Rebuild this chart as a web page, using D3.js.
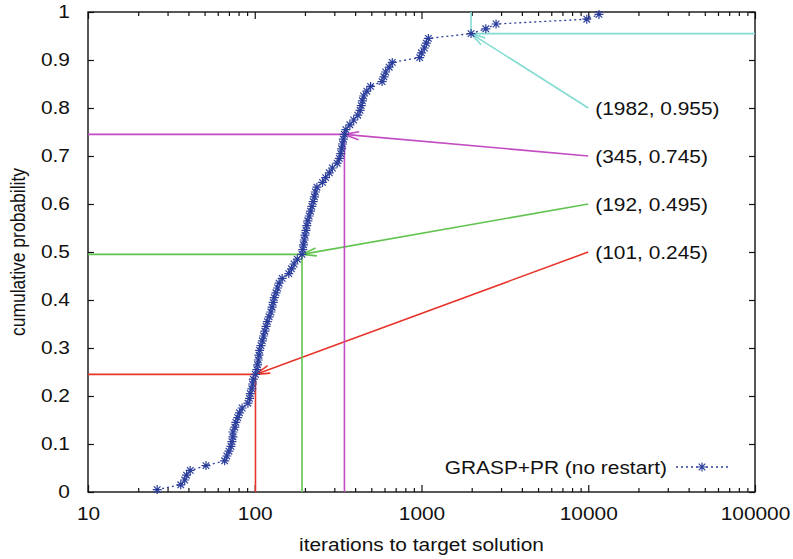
<!DOCTYPE html>
<html>
<head>
<meta charset="utf-8">
<script src="https://cdn.jsdelivr.net/npm/d3@7"></script>
<style>
  html, body { margin: 0; padding: 0; background: #fff; }
  svg { display: block; }
  text { font-family: "Liberation Sans", Arial, Helvetica, sans-serif; fill: #111; }
</style>
</head>
<body>
<div id="chart"></div>
<script>
// iterations needed to hit the target, sorted (100 runs)
const ITERATIONS = [
  26, 36, 38, 39, 41, 51, 66, 68, 70, 72,
  73, 74, 74, 76, 77, 79, 81, 84, 91, 93,
  94, 96, 97, 98, 101, 103, 104, 105, 106, 107,
  109, 111, 113, 115, 117, 119, 122, 125, 127, 129,
  131, 134, 137, 140, 146, 160, 166, 172, 180, 192,
  194, 196, 198, 200, 203, 205, 208, 212, 216, 220,
  224, 228, 231, 236, 255, 266, 280, 292, 312, 322,
  328, 332, 336, 340, 345, 352, 372, 392, 415, 428,
  435, 442, 450, 470, 495, 580, 595, 610, 640, 668,
  975, 1000, 1040, 1070, 1100, 1982, 2430, 2800, 9800, 11600
];
const PROBABILITY = [
  0.005, 0.015, 0.025, 0.035, 0.045, 0.055, 0.065, 0.075, 0.085, 0.095,
  0.105, 0.115, 0.125, 0.135, 0.145, 0.155, 0.165, 0.175, 0.185, 0.195,
  0.205, 0.215, 0.225, 0.235, 0.245, 0.255, 0.265, 0.275, 0.285, 0.295,
  0.305, 0.315, 0.325, 0.335, 0.345, 0.355, 0.365, 0.375, 0.385, 0.395,
  0.405, 0.415, 0.425, 0.435, 0.445, 0.455, 0.465, 0.475, 0.485, 0.495,
  0.505, 0.515, 0.525, 0.535, 0.545, 0.555, 0.565, 0.575, 0.585, 0.595,
  0.605, 0.615, 0.625, 0.635, 0.645, 0.655, 0.665, 0.675, 0.685, 0.695,
  0.705, 0.715, 0.725, 0.735, 0.745, 0.755, 0.765, 0.775, 0.785, 0.795,
  0.805, 0.815, 0.825, 0.835, 0.845, 0.855, 0.865, 0.875, 0.885, 0.895,
  0.905, 0.915, 0.925, 0.935, 0.945, 0.955, 0.965, 0.975, 0.985, 0.995
];

// highlighted quantiles and where their labels sit
const MARK_X = [101, 192, 345, 1982];
const MARK_P = [0.245, 0.495, 0.745, 0.955];
const LABEL_X = [10000, 10000, 10000, 10000];
const LABEL_P = [0.5, 0.6, 0.7, 0.8];
const MARK_COLORS = ["#e8352a", "#62c450", "#c24bc2", "#82dcd2"];

const X_TICKS = [10, 100, 1000, 10000, 100000];
const Y_TICKS = [0, 0.1, 0.2, 0.3, 0.4, 0.5, 0.6, 0.7, 0.8, 0.9, 1];
const SERIES_NAME = "GRASP+PR (no restart)";

const BLUE = "#2b3e9c";
const FS = 18.5, SX = 1.13;   // source picture is a bit wider than tall
const W = 793, H = 559;
const m = { top: 12, right: 38, bottom: 67, left: 88 };

const svg = d3.select("#chart").append("svg")
  .attr("width", W).attr("height", H)
  .attr("viewBox", [0, 0, W, H]);

const x = d3.scaleLog().domain([10, 100000]).range([m.left, W - m.right]);
const y = d3.scaleLinear().domain([0, 1]).range([H - m.bottom, m.top]);

const minor = [];
X_TICKS.slice(0, -1).forEach(d => { for (let k = 2; k < 10; k++) minor.push(d * k); });

function styleAxis(g) {
  g.select(".domain").remove();
  g.selectAll(".tick line").attr("stroke", "#111").attr("stroke-width", 1.2);
  g.selectAll(".tick text").attr("font-size", FS).attr("fill", "#111")
    .attr("font-family", "Liberation Sans, Arial, sans-serif")
    .attr("transform", `scale(${SX},1)`);
}

// stretched text helper
function label(px, py, str, anchor) {
  svg.append("g").attr("transform", `translate(${px},${py}) scale(${SX},1)`)
    .append("text")
    .attr("text-anchor", anchor || "start")
    .attr("font-size", FS)
    .text(str);
}

// bottom + top axes (ticks inward)
svg.append("g").attr("transform", `translate(0,${y(0)})`)
  .call(d3.axisBottom(x).tickValues(X_TICKS).tickFormat(d3.format("d")).tickSize(-7).tickPadding(15))
  .call(styleAxis);
svg.append("g").attr("transform", `translate(0,${y(0)})`)
  .call(d3.axisBottom(x).tickValues(minor).tickFormat("").tickSize(-4))
  .call(styleAxis);
svg.append("g").attr("transform", `translate(0,${y(1)})`)
  .call(d3.axisTop(x).tickValues(X_TICKS).tickFormat("").tickSize(-7))
  .call(styleAxis);
svg.append("g").attr("transform", `translate(0,${y(1)})`)
  .call(d3.axisTop(x).tickValues(minor).tickFormat("").tickSize(-4))
  .call(styleAxis);

// left + right axes
svg.append("g").attr("transform", `translate(${x(10)},0)`)
  .call(d3.axisLeft(y).tickValues(Y_TICKS).tickFormat(d => d3.format("")(+d.toFixed(1))).tickSize(-6).tickPadding(16))
  .call(styleAxis);
svg.append("g").attr("transform", `translate(${x(100000)},0)`)
  .call(d3.axisRight(y).tickValues(Y_TICKS).tickFormat("").tickSize(-6))
  .call(styleAxis);

// frame
svg.append("rect")
  .attr("x", x(10)).attr("y", y(1))
  .attr("width", x(100000) - x(10)).attr("height", y(0) - y(1))
  .attr("fill", "none").attr("stroke", "#111").attr("stroke-width", 1.4);

// axis titles
label((x(10) + x(100000)) / 2, 551, "iterations to target solution", "middle");
svg.append("text")
  .attr("transform", `translate(25,${y(0.5)}) rotate(-90) scale(1,${SX})`)
  .attr("text-anchor", "middle").attr("font-size", 17.5)
  .text("cumulative probability");

// quantile guides + arrows
function arrow(g, x0, y0, x1, y1, color) {
  g.append("line").attr("x1", x0).attr("y1", y0).attr("x2", x1).attr("y2", y1)
    .attr("stroke", color).attr("stroke-width", 1.6);
  const a = Math.atan2(y0 - y1, x0 - x1), len = 15, spread = 0.27;
  [a - spread, a + spread].forEach(t => {
    g.append("line").attr("x1", x1).attr("y1", y1)
      .attr("x2", x1 + len * Math.cos(t)).attr("y2", y1 + len * Math.sin(t))
      .attr("stroke", color).attr("stroke-width", 1.6);
  });
}

const ann = svg.append("g");
MARK_X.forEach((mx, i) => {
  const c = MARK_COLORS[i];
  const px = x(mx), py = y(MARK_P[i]);
  const last = i === MARK_X.length - 1;
  // horizontal guide
  ann.append("line")
    .attr("x1", last ? x(100000) : x(10)).attr("x2", px)
    .attr("y1", py).attr("y2", py)
    .attr("stroke", c).attr("stroke-width", 1.6);
  // vertical guide
  ann.append("line")
    .attr("x1", px).attr("x2", px)
    .attr("y1", last ? y(1) : y(0)).attr("y2", py)
    .attr("stroke", c).attr("stroke-width", 1.6);
  arrow(ann, x(LABEL_X[i]), y(LABEL_P[i]), px, py, c);
  label(x(LABEL_X[i]) + 7, y(LABEL_P[i]) + 6.5, `(${mx}, ${MARK_P[i]})`);
});

// data line + star markers
const pts = ITERATIONS.map((v, i) => ({ v, p: PROBABILITY[i] }));
svg.append("path")
  .datum(pts)
  .attr("fill", "none")
  .attr("stroke", BLUE).attr("stroke-width", 1.3)
  .attr("stroke-dasharray", "2,3")
  .attr("d", d3.line().x(d => x(d.v)).y(d => y(d.p)));

const star = "M-4.5,0H4.5M0,-4.5V4.5M-3.3,-3.3L3.3,3.3M-3.3,3.3L3.3,-3.3";
svg.append("g").selectAll("path")
  .data(pts).enter().append("path")
  .attr("d", star)
  .attr("transform", d => `translate(${x(d.v)},${y(d.p)})`)
  .attr("stroke", BLUE).attr("stroke-width", 1.2).attr("fill", "none");

// legend
const ly = 467;
label(667, ly + 6.5, SERIES_NAME, "end");
svg.append("line")
  .attr("x1", 676).attr("x2", 729).attr("y1", ly).attr("y2", ly)
  .attr("stroke", BLUE).attr("stroke-width", 1.3).attr("stroke-dasharray", "2,3");
svg.append("path").attr("d", star)
  .attr("transform", `translate(702,${ly})`)
  .attr("stroke", BLUE).attr("stroke-width", 1.2).attr("fill", "none");
</script>
</body>
</html>
